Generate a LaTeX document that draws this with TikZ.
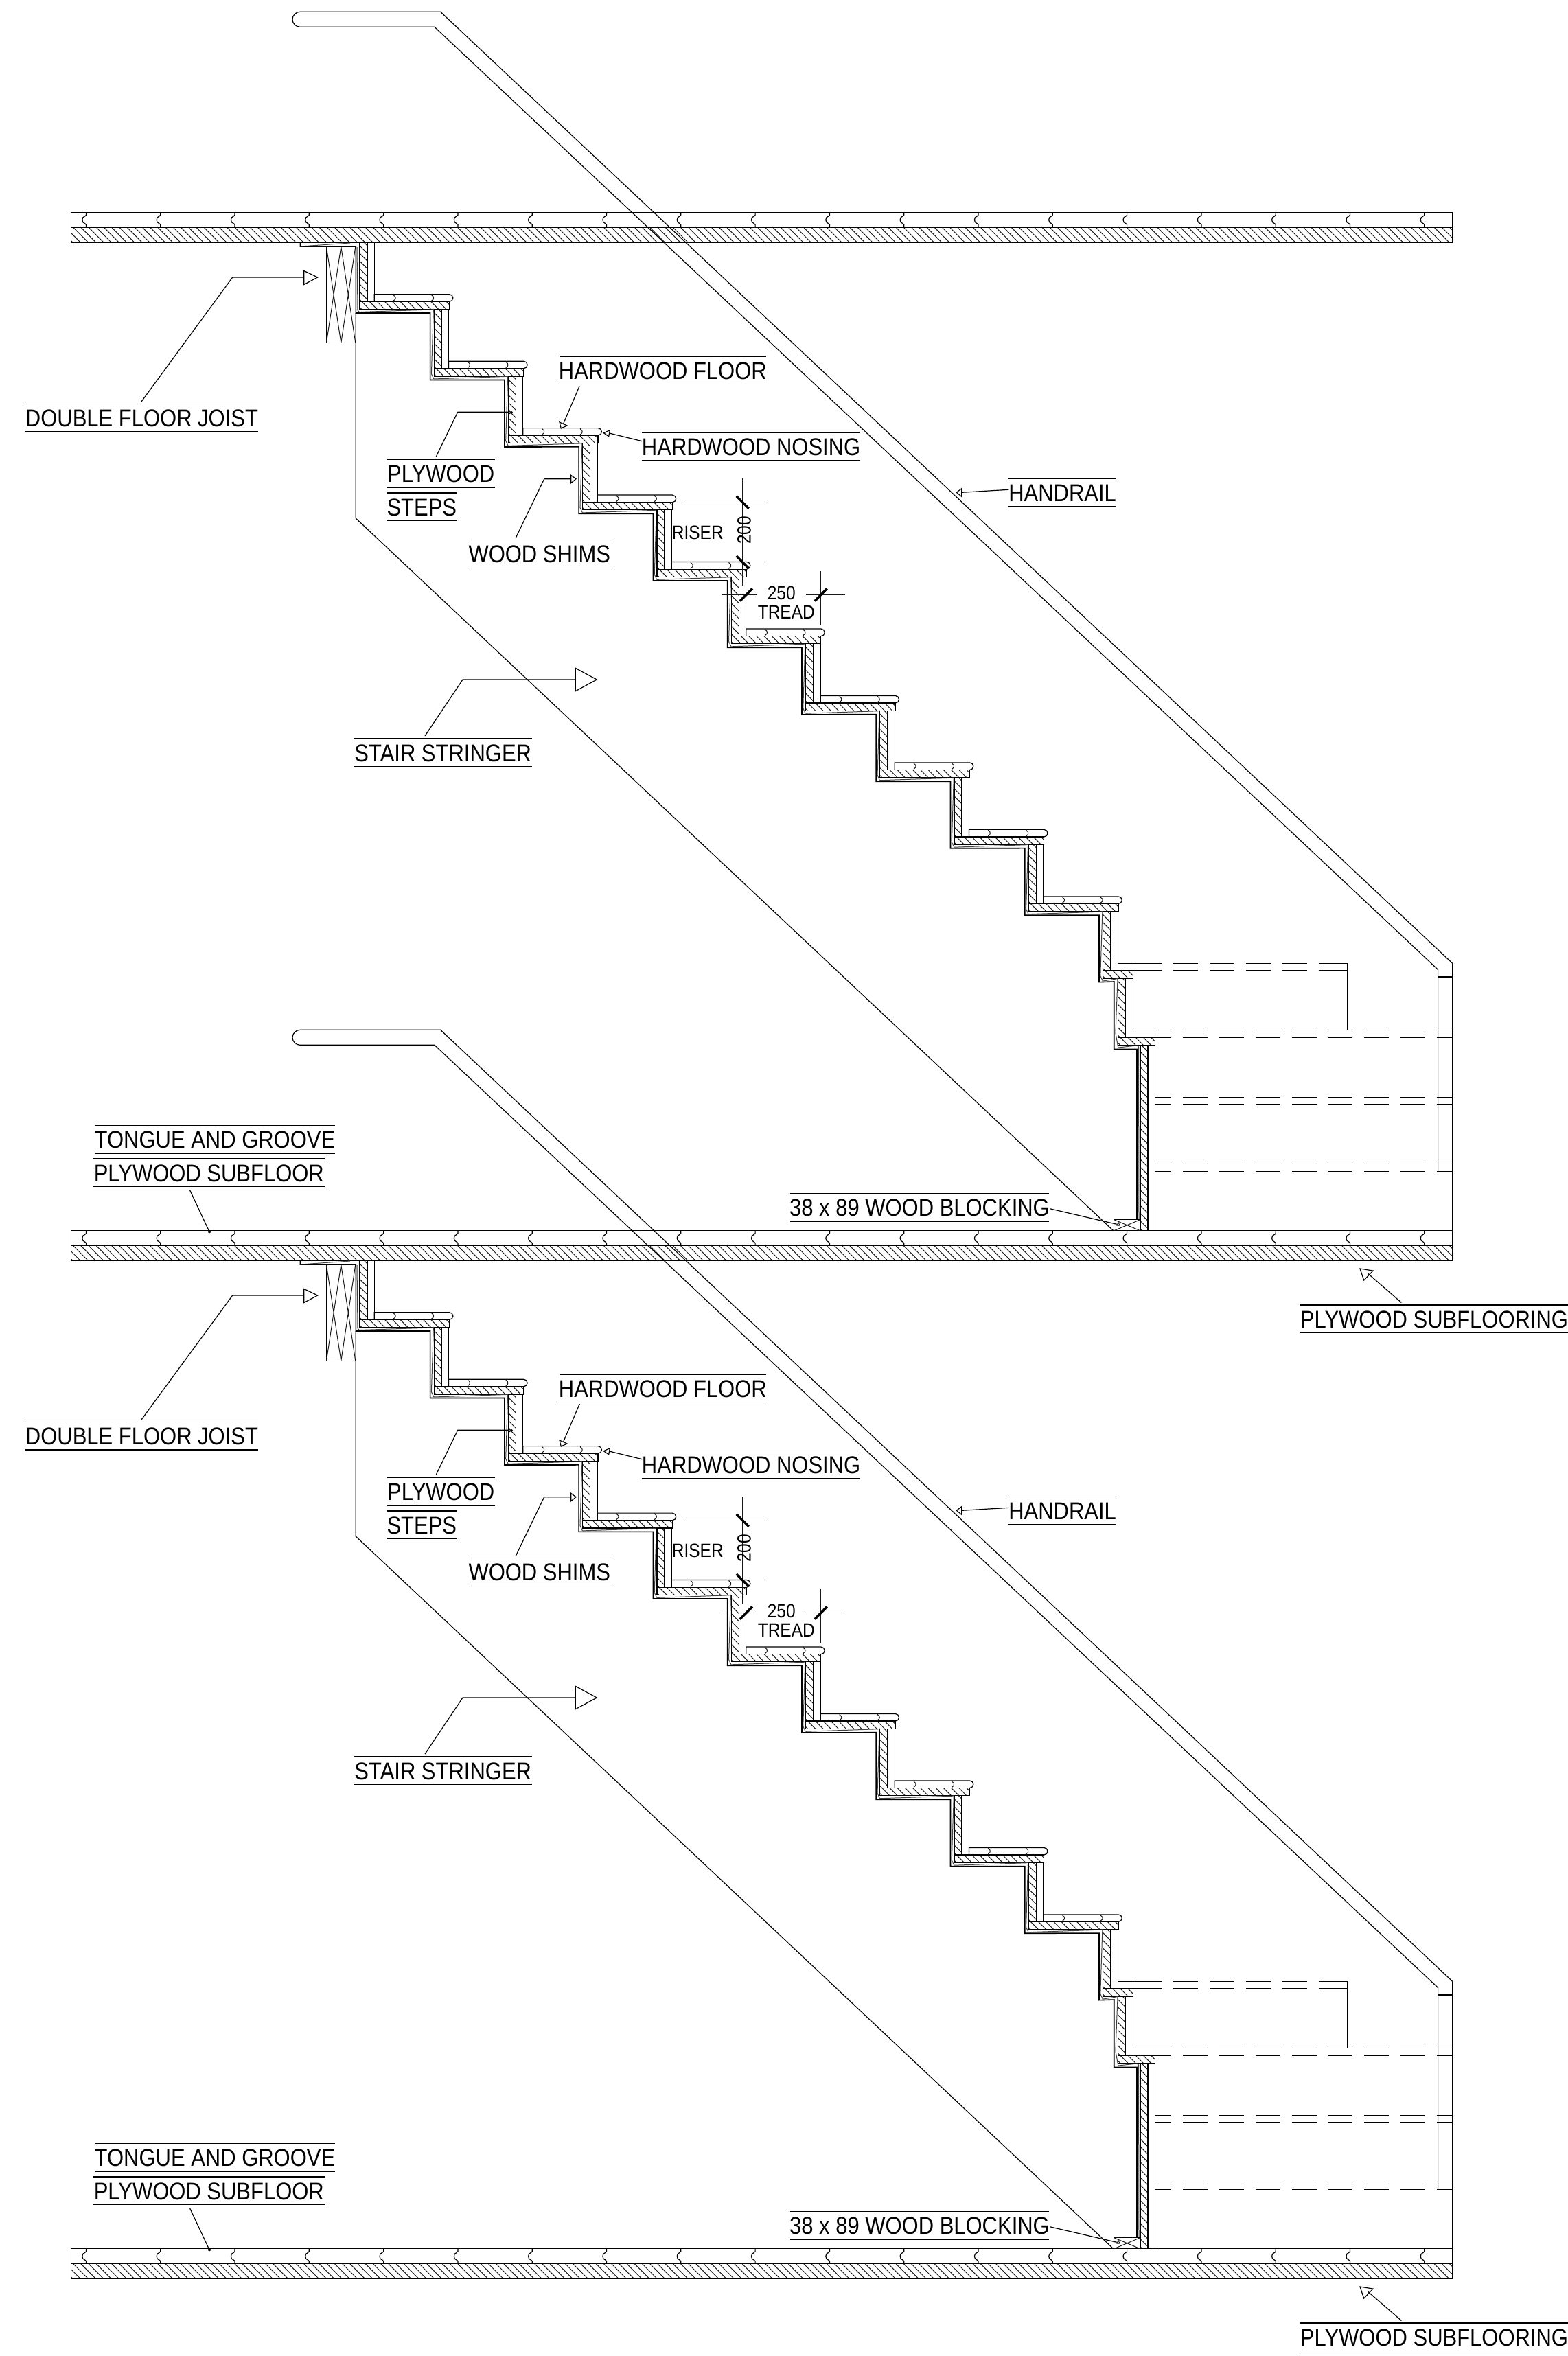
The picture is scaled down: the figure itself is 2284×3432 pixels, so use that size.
\documentclass[tikz,border=0pt]{standalone}
\usepackage{fontspec}
\newfontfamily\lblfont[FakeStretch=0.875]{Liberation Sans}
\tikzset{
  ln/.style={line width=0.6pt,black,line join=miter},
  hl/.style={line width=0.5pt,black!90},
  heavy/.style={line width=0.8pt,black,line join=miter},
  shim/.style={line width=0.5pt,black!75,line join=miter},
  tick/.style={line width=1.7pt,black},
  lbltext/.style={inner sep=0pt,font=\lblfont\fontsize{17.7}{20}\selectfont},
  dimtext/.style={inner sep=0pt,font=\lblfont\fontsize{14}{16}\selectfont},
}
% hatched rectangle: x1,y1,x2,y2 in image pixels
\newcommand\hatchrect[4]{%
  \begin{scope}
    \clip (#1,#2) rectangle (#3,#4);
    \pgfmathsetmacro\hA{(#1)-(#4)}
    \pgfmathsetmacro\hB{(#3)-(#2)}
    \pgfmathtruncatemacro\hN{(\hB-\hA)/11.2}
    \foreach \hi in {0,...,\hN}{
      \pgfmathsetmacro\hC{\hA+11.2*\hi+3}
      \draw[hl] ({\hC+(#2)},#2)--({\hC+(#4)},#4);
    }
  \end{scope}
  \draw[ln] (#1,#2) rectangle (#3,#4);
}
% groove on the subfloor: x, top y
\newcommand\floorjoint[2]{%
  \draw[ln] (#1,#2)--(#1,#2+4)--(#1-1.5,#2+5.5)
    .. controls (#1-7,#2+6.5) and (#1-7,#2+15.5) .. (#1-1.5,#2+16.5)
    --(#1,#2+18)--(#1,#2+22);
}
% groove on a tread: x, top y
\newcommand\treadjoint[2]{%
  \draw[hl] (#1,#2)--(#1,#2+1.5)--(#1+0.7,#2+2)
    .. controls (#1+3.4,#2+3) and (#1+3.4,#2+7.6) .. (#1+0.7,#2+8.6)
    --(#1,#2+9)--(#1,#2+10.6);
}
% a whole floor: top y
\newcommand\wholefloor[1]{%
  \draw[ln] (103.3,#1)--(2116,#1)--(2116,#1+22)--(103.3,#1+22)--cycle;
  \hatchrect{103.3}{#1+22}{2116}{#1+44}
  \foreach \j in {0,...,18}{
    \pgfmathsetmacro\jx{125.4+108.3*\j}
    \floorjoint{\jx}{#1}
  }
}
% over- and underlined label: name, x1, x2, y of overline, text
\newcommand\lab[5]{%
  \draw[ln] (#2,#4)--(#3,#4);
  \draw[ln] (#2,#4+40.7)--(#3,#4+40.7);
  \node[lbltext,anchor=base] (#1) at ({(#2+#3)/2},#4+33) {#5};
}
\begin{document}
\begin{tikzpicture}[x=0.5pt,y=-0.5pt]
\useasboundingbox (0,0) rectangle (2284,3432);
\fill[white] (0,0) rectangle (2284,3432);
\wholefloor{309.3}
\wholefloor{1792.7}
\wholefloor{3275.7}
\foreach \s in {0,1483}{
\begin{scope}[shift={(0,\s)}]
  % handrail
  \coordinate (hrA) at (641.7,17.3);
  \coordinate (hrB) at (2116,1403.6);
  \coordinate (hrC) at (2116,1792.7);
  \coordinate (hrD) at (633,39.3);
  \coordinate (hrE) at (2094.6,1412.5);
  \coordinate (hrF) at (2094.6,1706.4);
  \draw[ln] (hrB)--(hrA)--(437,17.3) .. controls (431,17.3) and (426,22.3) .. (426,28.3)
     .. controls (426,34.3) and (431,39.3) .. (437,39.3)--(hrD)--(hrE)--(hrF);
  \draw[ln] (hrB)--(hrC);
  \draw[ln] (2094.6,1422.9)--(2116,1422.9);
  % joist
  \draw[ln] (475.4,359)--(475.4,499.7)--(517.8,499.7);
  \draw[ln] (496.8,359)--(496.8,499.7);
  \draw[hl] (475.4,359)--(496.8,499.7) (496.8,359)--(475.4,499.7);
  \draw[hl] (496.8,359)--(517.8,499.7) (517.8,359)--(496.8,499.7);
  % stringer lower edge and wedge
  \draw[ln] (518.3,456)--(518.3,755)--(1621.7,1792.7);
  \draw[ln] (1600,1792.7)--(1622.7,1792.7);
  \draw[heavy] (437.3,353)--(437.3,359)--(518.3,359)--(518.3,456)
    \foreach \k in {0,...,9}{ --({626.6+108.27*\k},{456+97.46*\k})--({626.6+108.27*\k},{553.5+97.46*\k}) }
    --(1622.7,1430)--(1622.7,1528.3)--(1656,1528.3)--(1656,1776.7);
  \draw[shim] (437.3,359)--(510,354);
  \draw[shim] (520,360)--(521,452)--(524,455);
  % regular steps
  \foreach \k in {1,...,10}{
    \pgfmathsetmacro\xl{523.9+108.27*(\k-1)}
    \pgfmathsetmacro\yt{428.7+97.46*(\k-1)}
    \pgfmathsetmacro\yh{\yt+10.6}
    \pgfmathsetmacro\yb{\yt+21.8}
    \pgfmathsetmacro\yp{\k==1?353:\yt-75.66}
    \pgfmathsetmacro\xi{\xl+11}
    \pgfmathsetmacro\xo{\xl+21.4}
    \pgfmathsetmacro\xr{\xl+130.6}
    \pgfmathsetmacro\xn{\xl+136}
    \hatchrect{\xl}{\yp}{\xi}{\yh}
    \draw[ln] (\xo,\yp)--(\xo,\yh);
    \hatchrect{\xl}{\yh}{\xr}{\yb}
    \draw[ln] (\xo,\yh)--(\xo,\yt)--(\xn-5.3,\yt)
       .. controls (\xn-2.4,\yt) and (\xn,\yt+2.4) .. (\xn,\yt+5.3)
       .. controls (\xn,\yt+8.2) and (\xn-2.4,\yt+10.6) .. (\xn-5.3,\yt+10.6)--(\xr,\yt+10.6);
    \treadjoint{\xn-86.5}{\yt}
    \treadjoint{\xn-31}{\yt}
    \draw[shim] (\xl,\yb+4)--(\xl+105,\yb+0.5)--(\xl+107.5,\yb)--(\xl+104.5,\yb+94)--(\xl+108,\yb+101.5);
  }
  % eleventh step and below
  \hatchrect{1606.7}{1327.3}{1617.7}{1414}
  \draw[ln] (1628.3,1327.3)--(1628.3,1403.3);
  \hatchrect{1606.7}{1414}{1650.3}{1425.3}
  \draw[ln] (1628.3,1403.3)--(1650.3,1403.3);
  \hatchrect{1628.7}{1425.3}{1639.7}{1511.3}
  \draw[ln] (1650.3,1403.3)--(1650.3,1500.7);
  \hatchrect{1628.7}{1511.3}{1682.3}{1522.3}
  \hatchrect{1661}{1522.3}{1672}{1792.7}
  \draw[ln] (1682.3,1500.7)--(1682.3,1792.7);
  \draw[ln] (1650.3,1500.7)--(1682.3,1500.7);
  \draw[shim] (1606.7,1429)--(1625.7,1426)--(1628,1425.3)--(1625,1505)--(1628.7,1526)--(1656,1523)--(1658.5,1525)--(1659,1776);
  % dashed treads and joists
  \foreach \yy in {1403.3,1414}{
    \draw[ln] (1650.3,\yy)--(1692.7,\yy);
    \foreach \d in {0,1,2,3}{
      \draw[ln] ({1709.3+52.8*\d},\yy)--({1745.3+52.8*\d},\yy);
    }
    \draw[ln] (1920.5,\yy)--(1963,\yy);
  }
  \draw[ln] (1963,1403.3)--(1963,1500.7);
  \foreach \yy in {1500.7,1511.3,1598.2,1609,1695.7,1706.4}{
    \draw[ln] (1682.3,\yy)--(1706,\yy);
    \foreach \d in {0,...,6}{
      \draw[ln] ({1723.2+52.8*\d},\yy)--({1759.2+52.8*\d},\yy);
    }
    \draw[ln] (2092.7,\yy)--(2116,\yy);
  }
  % blocking
  \draw[ln] (1622.7,1792.7)--(1622.7,1776.7)--(1660.7,1776.7);
  \draw[hl] (1622.7,1776.7)--(1660.7,1792.7) (1622.7,1792.7)--(1660.7,1776.7);
  % labels
  \lab{joist\s}{37}{376}{588.3}{DOUBLE FLOOR JOIST}
  \lab{hwfl\s}{814.7}{1116}{519}{HARDWOOD FLOOR}
  \lab{plyw\s}{563.7}{720.8}{669.3}{PLYWOOD}
  \lab{step\s}{563.7}{665}{718}{STEPS}
  \lab{nose\s}{935.3}{1253}{630.3}{HARDWOOD NOSING}
  \lab{shims\s}{682.6}{889}{786.7}{WOOD SHIMS}
  \lab{hrail\s}{1469.3}{1626}{697.3}{HANDRAIL}
  \lab{strg\s}{516}{774.5}{1076}{STAIR STRINGER}
  \lab{tong\s}{137.7}{488.3}{1639.3}{TONGUE AND GROOVE}
  \lab{sub\s}{136}{472.7}{1688}{PLYWOOD SUBFLOOR}
  \lab{blk\s}{1150.7}{1528.3}{1738.3}{38 x 89 WOOD BLOCKING}
  \lab{subf\s}{1894}{2284}{1901}{PLYWOOD SUBFLOORING}
  % leaders
  \coordinate (lA) at (205.5,585.7); \coordinate (lB) at (338.7,404); \coordinate (lC) at (442.8,404);
  \draw[ln] (lA)--(lB)--(lC);
  \draw[ln] (442.8,394.5)--(462.7,404)--(442.8,414.5)--cycle;
  \coordinate (pA) at (635,665.7); \coordinate (pB) at (666.7,600.3); \coordinate (pC) at (740.7,600.3);
  \draw[ln] (pA)--(pB)--(pC);
  \draw[ln] (740.7,597.3)--(746,600.3)--(740.7,603.3)--cycle;
  \coordinate (hA) at (844.3,562); \coordinate (hB) at (820.7,617);
  \draw[ln] (hA)--(hB);
  \draw[ln] (815,615)--(826,620)--(817.3,624)--cycle;
  \coordinate (nA) at (935.3,642.7); \coordinate (nB) at (887.5,631);
  \draw[ln] (nA)--(nB);
  \draw[ln] (879.3,630.7)--(888.3,626.7)--(886.7,635.7)--cycle;
  \coordinate (wA) at (751,784); \coordinate (wB) at (792.7,697.7); \coordinate (wC) at (831.7,697.7);
  \draw[ln] (wA)--(wB)--(wC);
  \draw[ln] (831.7,692.3)--(839,697.7)--(831.7,703.7)--cycle;
  \coordinate (rA) at (1469.3,713.3); \coordinate (rB) at (1400.7,717.3);
  \draw[ln] (rA)--(rB);
  \draw[ln] (1393.3,717.3)--(1400.7,711.7)--(1400.7,723.3)--cycle;
  \coordinate (sA) at (619,1072); \coordinate (sB) at (674,990); \coordinate (sC) at (838.3,990);
  \draw[ln] (sA)--(sB)--(sC);
  \draw[ln] (838.3,973.3)--(869.3,990)--(838.3,1006.7)--cycle;
  \coordinate (tA) at (276.7,1734); \coordinate (tB) at (305,1794.3);
  \draw[ln] (tA)--(tB);
  \fill (tB) circle[radius=1pt];
  \coordinate (bA) at (1529.3,1760.7); \coordinate (bB) at (1626.7,1783.3);
  \draw[ln] (bA)--(bB);
  \draw[hl] (1627,1785)--(1629,1780.5)--(1631,1785)--cycle;
  \coordinate (uA) at (2041.4,1897.5); \coordinate (uB) at (1992.4,1855);
  \draw[ln] (uA)--(uB);
  \draw[ln] (1981,1848)--(2000,1851)--(1986.7,1865)--cycle;
  % dimensions
  \draw[hl] (999,732)--(1116.7,732);
  \draw[hl] (979,818.7)--(1116.7,818.7);
  \draw[hl] (1081.7,697.3)--(1081.7,853.3);
  \draw[tick] (1072.7,722.7)--(1090.7,740.7);
  \draw[tick] (1072.7,810)--(1090.7,828);
  \node[dimtext,rotate=90] (dimr\s) at (1084,772.3) {200};
  \node[dimtext] (riser\s) at (1016.3,775.7) {RISER};
  \draw[hl] (1052.3,866.3)--(1102,866.3);
  \draw[hl] (1174.3,866.3)--(1230.7,866.3);
  \draw[hl] (1195.3,831.7)--(1195.3,910);
  \draw[hl] (1086.7,860)--(1086.7,881);
  \draw[tick] (1077.7,875.7)--(1096,857.3);
  \draw[tick] (1186.7,875.7)--(1204.7,857.3);
  \node[dimtext] (dimt\s) at (1138.3,863.5) {250};
  \node[dimtext] (tread\s) at (1145.3,891.7) {TREAD};
\end{scope}
}
\end{tikzpicture}
\end{document}
